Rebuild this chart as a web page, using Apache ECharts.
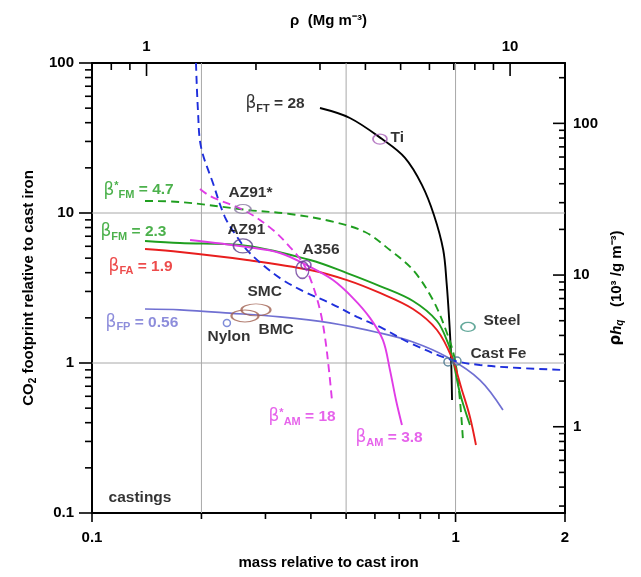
<!DOCTYPE html>
<html><head><meta charset="utf-8">
<script src="https://cdn.jsdelivr.net/npm/echarts@6/dist/echarts.min.js"></script>
<style>html,body{margin:0;padding:0;background:#fff}#c{width:641px;height:577px}</style>
</head><body><div id="c"></div>
<script>
// ---------- axis ranges ----------
const MASS_MIN = 0.1, MASS_MAX = 2;
const CO2_MIN = 0.1, CO2_MAX = 100;
const RHO_MIN = 0.708, RHO_MAX = 14.16;
const RHQ_MIN = 0.27, RHQ_MAX = 250;

// ---------- tick values ----------
const massLabels = [0.1, 1, 2];
const massTicksMajor = [0.1, 1, 2];
const massTicksMinor = [0.2, 0.3, 0.4, 0.5, 0.6, 0.7, 0.8, 0.9];
const co2Labels = [0.1, 1, 10, 100];
const co2TicksMajor = [0.1, 1, 10, 100];
const co2TicksMinor = [0.2, 0.3, 0.4, 0.5, 0.6, 0.7, 0.8, 0.9, 2, 3, 4, 5, 6, 7, 8, 9, 20, 30, 40, 50, 60, 70, 80, 90];
const rhoLabels = [1, 10];
const rhoTicksMajor = [1, 10];
const rhoTicksMinor = [0.8, 0.9, 2, 3, 4, 5, 6, 7, 8, 9];
const rhqLabels = [1, 10, 100];
const rhqTicksMajor = [1, 10, 100];
const rhqTicksMinor = [0.3, 0.4, 0.5, 0.6, 0.7, 0.8, 0.9, 2, 3, 4, 5, 6, 7, 8, 9, 20, 30, 40, 50, 60, 70, 80, 90, 200];
const gridMass = [0.2, 0.5, 1];
const gridCO2 = [1, 10];

// ---------- curves [mass, CO2] ----------
const betaFT = [[0.4237,50.1],[0.512,43.0],[0.628,31.1],[0.726,23.3],[0.808,15.4],[0.872,9.70],[0.925,5.67],[0.945,3.41],[0.959,2.06],[0.971,1.17],[0.978,0.567]];
const betaFM = [[0.1399,6.51],[0.1746,6.31],[0.2553,6.12],[0.3978,4.86],[0.5028,3.98],[0.6194,3.26],[0.7637,2.59],[0.8889,1.905],[0.953,1.36],[0.9836,1.047],[1.028,0.631],[1.0955,0.386]];
const betaFA = [[0.1399,5.75],[0.1746,5.50],[0.2669,4.86],[0.3978,4.17],[0.5028,3.57],[0.6194,2.93],[0.7637,2.29],[0.8889,1.66],[0.9773,1.08],[1.041,0.661],[1.0955,0.437],[1.138,0.284]];
const betaFMstar = [[0.1399,12.02],[0.1746,11.84],[0.2685,10.47],[0.3504,9.85],[0.4515,8.84],[0.5636,7.47],[0.660,5.66],[0.7637,4.17],[0.8667,2.63],[0.9469,1.585],[0.9962,1.047],[1.028,0.567],[1.048,0.307]];
const betaFP = [[0.1399,2.29],[0.1746,2.26],[0.2396,2.15],[0.3289,2.03],[0.4515,1.85],[0.6194,1.585],[0.7637,1.38],[0.9469,1.096],[1.167,0.770],[1.350,0.486]];
const blueDashed = [[0.1932,100],[0.1956,48.6],[0.1995,27.5],[0.2151,15.85],[0.2321,9.40],[0.2506,6.92],[0.2669,5.66],[0.2953,4.50],[0.3352,3.57],[0.3903,2.93],[0.4515,2.51],[0.5356,2.03],[0.6194,1.74],[0.7490,1.36],[0.9773,1.047],[1.167,0.970],[1.503,0.926],[2.0,0.898]];
const betaAMstar = [[0.1982,14.45],[0.2112,12.98],[0.2669,10.16],[0.3147,7.70],[0.3504,5.93],[0.3803,4.64],[0.4027,3.41],[0.4237,2.26],[0.4373,1.49],[0.4485,0.898],[0.4571,0.567]];
const betaAM = [[0.1861,6.61],[0.2669,5.93],[0.3289,5.41],[0.3978,4.37],[0.4601,3.57],[0.5223,2.71],[0.5815,2.0],[0.6314,1.42],[0.660,0.898],[0.6857,0.567],[0.7121,0.386]];

// ---------- materials ----------
const matNames = ['Ti','AZ91*','AZ91','A356','A356','SMC','BMC','Nylon','Steel','Cast Fe','Cast Fe'];
const matMass  = [0.6195,0.260,0.260,0.379,0.3878,0.2635,0.2825,0.235,1.082,0.953,1.009];
const matCO2   = [31.1,10.63,6.03,4.17,4.5,2.06,2.26,1.85,1.74,1.016,1.03];

// ---------- annotations ----------
const annoText = ['β_FT = 28','Ti','β*_FM = 4.7','AZ91*','β_FM = 2.3','AZ91','A356','β_FA = 1.9','SMC','β_FP = 0.56','BMC','Nylon','Steel','Cast Fe','β*_AM = 18','β_AM = 3.8','castings'];
const annoMass = [0.2635,0.660,0.1072,0.2366,0.1052,0.235,0.378,0.1107,0.2669,0.1086,0.2861,0.2071,1.19,1.095,0.3049,0.529,0.1107];
const annoCO2  = [53.3,31.6,14.2,13.6,7.47,7.70,5.67,4.37,2.97,1.85,1.66,1.49,1.905,1.148,0.4365,0.316,0.126];

// ---------- styles ----------
const FONT = 'Liberation Sans, Arial, sans-serif';
const TXT = '#000000';
const C = { black:'#000000', green:'#1f9e1f', red:'#e81e1e', peri:'#7070d2', blue:'#1f2fdc', magenta:'#e03ce6' };
const annoColor = {'β_FT = 28':C.black,'β*_FM = 4.7':C.green,'β_FM = 2.3':C.green,'β_FA = 1.9':C.red,'β_FP = 0.56':C.peri,'β*_AM = 18':C.magenta,'β_AM = 3.8':C.magenta};
const matStyle = {
  'Ti':{c:'#a860b8',s:[14,10]}, 'AZ91*':{c:'#8878a0',s:[16,9]}, 'AZ91':{c:'#583e88',s:[19,14]},
  'A356':{c:'#6a3a9a',s:[13,17]}, 'SMC':{c:'#a06050',s:[27,12]}, 'BMC':{c:'#a06050',s:[29,12]},
  'Nylon':{c:'#6070d0',s:[7,7]}, 'Steel':{c:'#3f9482',s:[14,9]}, 'Cast Fe':{c:'#40708a',s:[8,8]}
};

function near(list){ return v => { const f = list.find(t => Math.abs(v - t) / t < 1e-4); return f === undefined ? '' : String(f); }; }
function richFor(txt){
  const m = txt.match(/^β(\*?)_(\w+)( = .*)$/);
  if (!m) return '{t|' + txt + '}';
  return '{b|β}' + (m[1] ? '{p|*}' : '') + '{s|' + m[2] + '}{t|' + m[3] + '}';
}
function richStyles(color){
  return {
    b:{fontFamily:'DejaVu Sans', fontSize:17, color:color, lineHeight:20},
    p:{fontFamily:FONT, fontSize:11, fontWeight:'bold', color:color, verticalAlign:'top', lineHeight:11},
    s:{fontFamily:FONT, fontSize:11, fontWeight:'bold', color:color, verticalAlign:'bottom', lineHeight:12},
    t:{fontFamily:FONT, fontSize:15.5, fontWeight:'bold', color:color, lineHeight:20}
  };
}

function tickSeries(xi, yi, pts, dx, dy, lenMaj, lenMin){
  return {type:'custom', xAxisIndex:xi, yAxisIndex:yi, clip:false, silent:true, z:5,
    renderItem:(params, api) => {
      const p = api.coord([api.value(0), api.value(1)]);
      const L = api.value(2) ? lenMaj : lenMin;
      return {type:'line', shape:{x1:p[0], y1:p[1], x2:p[0]+dx*L, y2:p[1]+dy*L}, style:{stroke:'#000', lineWidth:1.6}};
    }, data: pts};
}
function curve(name, data, color, dashed, width){
  return {type:'line', name:name, data:data, smooth:0.35, showSymbol:false, symbol:'none', silent:true, z:2,
    lineStyle:{color:color, width:width||1.9, type: dashed ? [8,5] : 'solid'}};
}

const axisLabelStyle = {fontFamily:FONT, fontSize:15, fontWeight:'bold', color:TXT};
const nameStyle = {fontFamily:FONT, fontSize:15, fontWeight:'bold', color:TXT};

const chart = echarts.init(document.getElementById('c'));
const option = {
  animation:false,
  backgroundColor:'#fff',
  grid:{left:92, right:76, top:63, bottom:64, containLabel:false},
  xAxis:[
    {type:'log', min:MASS_MIN, max:MASS_MAX, position:'bottom',
     axisLine:{show:true, onZero:false, lineStyle:{color:'#000', width:2}}, axisTick:{show:false}, splitLine:{show:false},
     axisLabel:{...axisLabelStyle, margin:17, formatter:near(massLabels), showMinLabel:true, showMaxLabel:true},
     name:'mass relative to cast iron', nameLocation:'middle', nameGap:42, nameTextStyle:nameStyle},
    {type:'log', min:RHO_MIN, max:RHO_MAX, position:'top',
     axisLine:{show:true, onZero:false, lineStyle:{color:'#000', width:2}}, axisTick:{show:false}, splitLine:{show:false},
     axisLabel:{...axisLabelStyle, margin:9, formatter:near(rhoLabels)},
     name:'ρ  (Mg m⁻³)', nameLocation:'middle', nameGap:35, nameTextStyle:nameStyle}
  ],
  yAxis:[
    {type:'log', min:CO2_MIN, max:CO2_MAX, position:'left',
     axisLine:{show:true, onZero:false, lineStyle:{color:'#000', width:2}}, axisTick:{show:false}, splitLine:{show:false},
     axisLabel:{...axisLabelStyle, margin:18, formatter:near(co2Labels), showMinLabel:true, showMaxLabel:true},
     name:'{t|CO}{s|2}{t| footprint relative to cast iron}', nameLocation:'middle', nameGap:50, nameRotate:90,
     nameTextStyle:{...nameStyle, rich:{t:{...nameStyle, lineHeight:18}, s:{...nameStyle, fontSize:10, verticalAlign:'bottom', lineHeight:10}}}},
    {type:'log', min:RHQ_MIN, max:RHQ_MAX, position:'right',
     axisLine:{show:true, onZero:false, lineStyle:{color:'#000', width:2}}, axisTick:{show:false}, splitLine:{show:false},
     axisLabel:{...axisLabelStyle, margin:8, formatter:near(rhqLabels)},
     name:'{r|ρ}{i|h}{q|q}{t|   (10³ /g m⁻³)}', nameLocation:'middle', nameGap:42, nameRotate:90,
     nameTextStyle:{...nameStyle, rich:{
       r:{fontFamily:'DejaVu Sans', fontSize:15, color:TXT, lineHeight:18},
       i:{...nameStyle, fontStyle:'italic', lineHeight:18},
       q:{...nameStyle, fontStyle:'italic', fontSize:10, verticalAlign:'bottom', lineHeight:10},
       t:{...nameStyle, lineHeight:18}}}}
  ],
  series:[
    // grid lines
    {type:'custom', xAxisIndex:0, yAxisIndex:0, silent:true, z:1, clip:false,
     renderItem:(params, api) => { const a = api.coord([api.value(0), CO2_MIN]); const b = api.coord([api.value(0), CO2_MAX]);
       return {type:'line', shape:{x1:a[0], y1:a[1], x2:b[0], y2:b[1]}, style:{stroke:'#a8a8a8', lineWidth:1}}; },
     data: gridMass.map(v => [v, CO2_MIN])},
    {type:'custom', xAxisIndex:0, yAxisIndex:0, silent:true, z:1, clip:false,
     renderItem:(params, api) => { const a = api.coord([MASS_MIN, api.value(1)]); const b = api.coord([MASS_MAX, api.value(1)]);
       return {type:'line', shape:{x1:a[0], y1:a[1], x2:b[0], y2:b[1]}, style:{stroke:'#a8a8a8', lineWidth:1}}; },
     data: gridCO2.map(v => [MASS_MIN, v])},
    // curves
    curve('βFT', betaFT, C.black, false, 1.9),
    curve('βFMstar', betaFMstar, C.green, true, 1.9),
    curve('βFM', betaFM, C.green, false, 1.9),
    curve('βFA', betaFA, C.red, false, 1.9),
    curve('βFP', betaFP, C.peri, false, 1.7),
    curve('blue', blueDashed, C.blue, true, 1.9),
    curve('βAMstar', betaAMstar, C.magenta, true, 1.9),
    curve('βAM', betaAM, C.magenta, false, 1.9),
    // materials
    {type:'scatter', xAxisIndex:0, yAxisIndex:0, silent:true, z:3, clip:false,
     data: matNames.map((n, i) => ({value:[matMass[i], matCO2[i]], symbol:'circle', symbolSize: (n === 'A356' && i === 4) ? [10,9] : matStyle[n].s,
       itemStyle:{color:'rgba(0,0,0,0)', borderColor:matStyle[n].c, borderWidth:1.5}}))},
    // ticks
    tickSeries(0, 0, massTicksMajor.map(v => [v, CO2_MIN, 1]).concat(massTicksMinor.map(v => [v, CO2_MIN, 0])), 0, 1, 9, 6),
    tickSeries(0, 0, co2TicksMajor.map(v => [MASS_MIN, v, 1]).concat(co2TicksMinor.map(v => [MASS_MIN, v, 0])), -1, 0, 13, 7),
    tickSeries(1, 0, rhoTicksMajor.map(v => [v, CO2_MAX, 1]).concat(rhoTicksMinor.map(v => [v, CO2_MAX, 0])), 0, 1, 13, 7),
    tickSeries(0, 1, rhqTicksMajor.map(v => [MASS_MAX, v, 1]).concat(rhqTicksMinor.map(v => [MASS_MAX, v, 0])), -1, 0, 12, 6),
    // annotations
    {type:'scatter', xAxisIndex:0, yAxisIndex:0, silent:true, z:6, clip:false, symbolSize:1,
     itemStyle:{color:'rgba(0,0,0,0)'},
     data: annoText.map((t, i) => ({value:[annoMass[i], annoCO2[i]],
       label:{show:true, position:'right', distance:0, formatter:richFor(t), rich:richStyles(annoColor[t] || TXT)}}))}
  ]
};
chart.setOption(option);
</script></body></html>
